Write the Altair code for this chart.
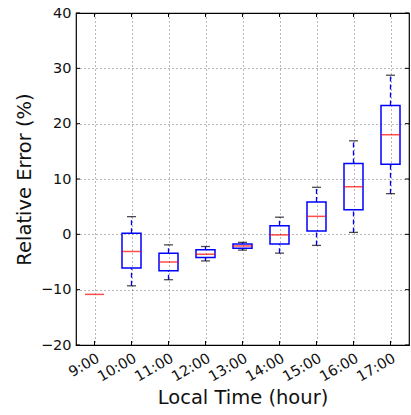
import altair as alt
import pandas as pd

hours = ["9:00", "10:00", "11:00", "12:00", "13:00", "14:00", "15:00", "16:00", "17:00"]
whisker_low = [-10.85, -9.3, -8.2, -4.8, -2.85, -3.4, -2.0, 0.35, 7.35]
q1 = [-10.85, -6.1, -6.6, -4.2, -2.5, -1.75, 0.6, 4.45, 12.65]
median = [-10.85, -3.1, -5.0, -3.6, -2.1, -0.1, 3.25, 8.6, 18.0]
q3 = [-10.85, 0.2, -3.4, -2.8, -1.75, 1.55, 5.85, 12.8, 23.3]
whisker_high = [-10.85, 3.2, -1.9, -2.2, -1.45, 3.1, 8.5, 16.9, 28.75]
yticks = [-20, -10, 0, 10, 20, 30, 40]

W, H = 333, 332
FONT = "DejaVu Sans"

df = pd.DataFrame({"hour": hours, "lo": whisker_low, "q1": q1, "med": median,
                   "q3": q3, "hi": whisker_high})
box_df = df[df["hi"] > df["lo"]]
tick_df = pd.DataFrame({"hour": hours})
ytick_df = pd.DataFrame({"v": yticks})

xscale = alt.Scale(type="point", domain=hours, padding=0.5)
yscale = alt.Scale(domain=[-20, 40], nice=False, zero=False)

xenc = alt.X("hour:N", scale=xscale, sort=hours,
             axis=alt.Axis(title="Local Time (hour)", labelAngle=330, labelAlign="right",
                           labelBaseline="top", labelPadding=6, ticks=False, domain=False,
                           grid=True, gridColor="#000", gridDash=[1, 3], gridWidth=0.8,
                           gridOpacity=0.7, labelFont=FONT, labelFontSize=14.5,
                           labelColor="#111", titleFont=FONT, titleFontSize=19.5,
                           titleFontWeight="normal", titleColor="#111", titlePadding=5))
yaxis = alt.Axis(title="Relative Error (%)", values=yticks, ticks=False, domain=False,
                 grid=True, gridColor="#000", gridDash=[1, 3], gridWidth=0.8, gridOpacity=0.7,
                 labelFont=FONT, labelFontSize=14.5, labelColor="#111", labelPadding=5,
                 labelExpr="replace(datum.label, '-', '\u2212')",
                 titleFont=FONT, titleFontSize=19.5, titleFontWeight="normal",
                 titleColor="#111", titlePadding=6)

base = alt.Chart(box_df)

whisk_up = base.mark_rule(color="#0000ff", strokeWidth=1.3, strokeDash=[5, 3]).encode(
    x=xenc, y=alt.Y("q3:Q", scale=yscale, axis=yaxis), y2="hi:Q")
whisk_dn = base.mark_rule(color="#0000ff", strokeWidth=1.3, strokeDash=[5, 3]).encode(
    x="hour:N", y="lo:Q", y2="q1:Q")
cap_hi = base.mark_tick(color="#000", size=9, thickness=1.3).encode(x="hour:N", y="hi:Q")
cap_lo = base.mark_tick(color="#000", size=9, thickness=1.3).encode(x="hour:N", y="lo:Q")
boxes = base.mark_bar(size=19, fill="white", fillOpacity=0, stroke="#0000ff",
                      strokeWidth=1.5).encode(x="hour:N", y="q1:Q", y2="q3:Q")
meds = alt.Chart(df).mark_tick(color="#ff0000", size=19, thickness=1.5).encode(
    x="hour:N", y="med:Q")

tb = alt.Chart(tick_df).mark_rule(color="#000", strokeWidth=1).encode(
    x="hour:N", y=alt.value(H), y2=alt.value(H - 4))
tt = alt.Chart(tick_df).mark_rule(color="#000", strokeWidth=1).encode(
    x="hour:N", y=alt.value(0), y2=alt.value(4))
tl = alt.Chart(ytick_df).mark_rule(color="#000", strokeWidth=1).encode(
    y="v:Q", x=alt.value(0), x2=alt.value(4))
tr = alt.Chart(ytick_df).mark_rule(color="#000", strokeWidth=1).encode(
    y="v:Q", x=alt.value(W), x2=alt.value(W - 4))

chart = alt.layer(whisk_up, whisk_dn, cap_hi, cap_lo, boxes, meds, tb, tt, tl, tr).properties(
    width=W, height=H, autosize=alt.AutoSizeParams(type="none"),
    padding={"left": 76, "top": 13, "right": 2, "bottom": 70}, background="white"
).configure_view(stroke="#000", strokeWidth=1.2)

chart.save("out.html", embed_options={"renderer": "svg", "actions": False})
